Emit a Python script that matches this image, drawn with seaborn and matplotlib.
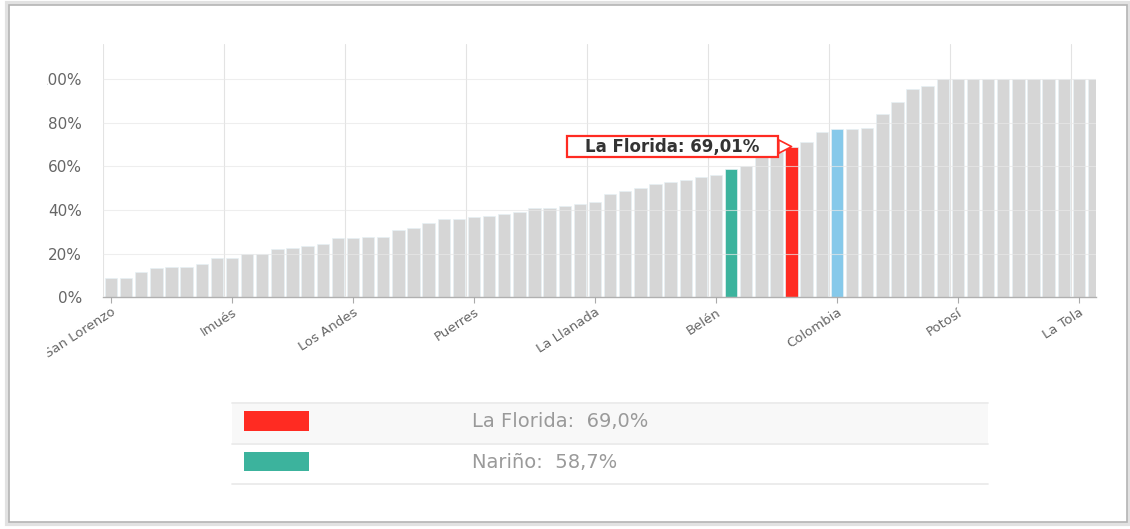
import matplotlib
matplotlib.use('Agg')
import matplotlib.pyplot as plt
import seaborn as sns
import numpy as np
import pandas as pd
from matplotlib.patches import Rectangle

# ============ Datos ============
# porcentaje por municipio, ordenado (64 municipios + Nariño + Colombia)
porcentajes = [9.0, 9.0, 11.6, 13.3, 13.8, 13.8, 15.2, 17.8,
               17.8, 20.0, 20.0, 22.2, 22.7, 23.7, 24.6, 27.1,
               27.3, 27.7, 27.7, 30.8, 31.7, 34.0, 36.0, 36.0,
               36.6, 37.4, 38.3, 39.2, 41.1, 41.1, 42.0, 42.9,
               43.8, 47.1, 48.6, 50.1, 52.1, 53.0, 53.9, 55.2,
               55.8, 58.7, 60.1, 64.3, 66.5, 69.01, 71.3, 75.7,
               77.2, 77.2, 77.7, 84.0, 89.5, 95.6, 96.8, 100.0,
               100.0, 100.0, 100.0, 100.0, 100.0, 100.0, 100.0, 100.0,
               100.0, 100.0]

etiquetas = ['San Lorenzo', 'Imués', 'Los Andes', 'Puerres', 'La Llanada',
             'Belén', 'Colombia', 'Potosí', 'La Tola']
pos_etiquetas = [0, 8, 16, 24, 32, 40, 48, 56, 64]

idx_narino = 41
idx_florida = 45
idx_colombia = 48

resumen_nombres = ['La Florida', 'Nariño']
resumen_valores = [69.0, 58.7]

gris = '#d6d6d6'
rojo = '#ff2b22'
verde = '#3cb39d'
azul = '#86c9ea'

# ============ Figura ============
sns.set_theme(style='white')
plt.rcParams['font.family'] = ['DejaVu Sans']

W, H = 1130, 529
fig = plt.figure(figsize=(W / 100, H / 100), dpi=100)
fig.patch.set_facecolor('white')

ax = fig.add_axes([103 / W, 1 - 297.3 / H, (1096 - 103) / W, (297.3 - 44) / H])

df = pd.DataFrame({'pos': range(len(porcentajes)), 'valor': porcentajes})
colores = [gris] * len(porcentajes)
colores[idx_narino] = verde
colores[idx_florida] = rojo
colores[idx_colombia] = azul

sns.barplot(data=df, x='pos', y='valor', hue='pos', palette=colores, legend=False,
            width=0.82, saturation=1, edgecolor='#e6f1f5', linewidth=0.5, ax=ax)

ax.set_xlim(-0.53, 65.13)
ax.set_ylim(0, 116)
ax.set_xlabel('')
ax.set_ylabel('')

ax.set_yticks([0, 20, 40, 60, 80, 100])
ax.set_yticklabels([f'{v}%' for v in [0, 20, 40, 60, 80, 100]])
ax.set_xticks(pos_etiquetas)
ax.set_xticklabels(etiquetas, rotation=33, ha='right', va='top', rotation_mode='anchor')
ax.set_xticks(np.array(pos_etiquetas) - 0.5, minor=True)

ax.grid(False)
ax.grid(axis='x', which='minor', color='#e3e3e3', lw=0.8)
ax.grid(axis='y', which='major', color='#e8e8e8', lw=0.8, alpha=0.7)
ax.set_axisbelow(False)

ax.tick_params(axis='x', which='major', bottom=True, length=4, width=0.8, color='#aaaaaa',
               labelsize=9.5, labelcolor='#666666', pad=2)
ax.tick_params(axis='x', which='minor', length=0)
ax.tick_params(axis='y', length=0, labelsize=11, labelcolor='#666666', pad=15)

for s in ['left', 'top', 'right']:
    ax.spines[s].set_visible(False)
ax.spines['bottom'].set_color('#b0b0b0')
ax.spines['bottom'].set_linewidth(1)

# tooltip de La Florida
txt = f'La Florida: {porcentajes[idx_florida]:.2f}%'.replace('.', ',')
ax.annotate(txt, xy=(idx_florida, porcentajes[idx_florida]), xytext=(-23, 0),
            textcoords='offset points', ha='right', va='center',
            fontsize=12, fontweight='bold', color='#333333', zorder=5,
            bbox=dict(boxstyle='square,pad=1.1', mutation_aspect=0.1,
                      fc='white', ec=rojo, lw=1.6),
            arrowprops=dict(arrowstyle='wedge,tail_width=0.8', fc='white', ec=rojo, lw=1.2,
                            shrinkA=0, shrinkB=0))

# el contenido queda recortado a la izquierda (como en la captura)
fig.add_artist(Rectangle((10.5 / W, 1 - 380 / H), (47 - 10.5) / W, (380 - 40) / H,
                         transform=fig.transFigure, fc='white', ec='none', zorder=10))

# ============ Tabla resumen ============
lax = fig.add_axes([232 / W, 1 - 484 / H, (988 - 232) / W, (484 - 403) / H])
lax.set_xlim(0, 756)
lax.set_ylim(81, 0)
lax.axis('off')

fila = 40.5
lax.add_patch(Rectangle((0, 0), 756, fila, fc='#f8f8f8', ec='none'))
for i in range(3):
    lax.axhline(i * fila, color='#ebebeb', lw=1.3, clip_on=False)

for i, (nombre, val, col) in enumerate(zip(resumen_nombres, resumen_valores, [rojo, verde])):
    lax.add_patch(Rectangle((12, i * fila + 8), 65, 19.5, fc=col, ec='none'))
    etiqueta = f'{nombre}:  {val:.1f}%'.replace('.', ',')
    lax.text(240, i * fila + 18.5, etiqueta, va='center', ha='left',
             fontsize=14, color='#9a9a9a')

# ============ Marco ============
fig.add_artist(Rectangle((7 / W, 1 - 524 / H), (1129 - 7) / W, (524 - 3) / H,
                         transform=fig.transFigure, fill=False, ec='#e2e2e2', lw=3, zorder=11))
fig.add_artist(Rectangle((9 / W, 1 - 522 / H), (1127 - 9) / W, (522 - 5) / H,
                         transform=fig.transFigure, fill=False, ec='#b5b5b5', lw=1.2, zorder=11))

fig.savefig('out.png', dpi=100)
